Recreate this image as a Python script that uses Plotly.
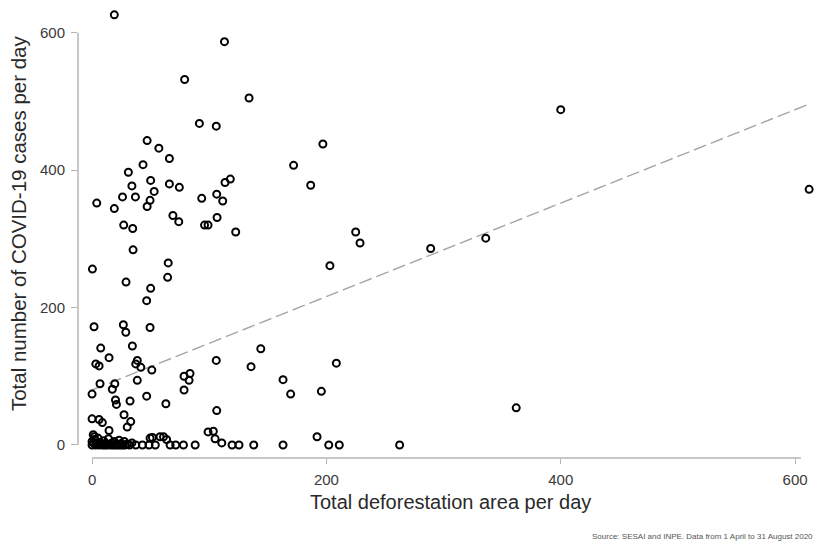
import plotly.graph_objects as go

# Deforestation area per day (x) and COVID-19 cases per day (y)
deforestation = [
    19, 113, 79, 134, 91.6, 106, 47, 57, 66, 43.5, 172, 31, 50, 66, 74.5, 34, 53, 113.5, 118, 106.4,
    111.5, 93.6, 4, 26, 37, 49.5, 47, 19, 69, 74, 96, 99, 106.7, 122.6, 27, 34.7, 35, 0.3, 65, 64.5,
    29, 400, 197, 186.6, 225, 228.7, 289, 336, 203, 612, 50, 46.6,
    1.7, 26.7, 28.8, 49.5, 7.4, 34.4, 14.5, 3.2, 6, 38.6, 37.3, 41.6, 51, 78.5, 83.6, 82.8, 78.5, 6.8,
    19.4, 17.3, 38.6, 0, 20, 20.8, 32.4, 46.6, 63, 0, 6, 8.8, 27.3, 33, 30, 14.5, 106, 144, 135.7, 163,
    169.5, 208.5, 195.7, 362, 106.4, 99, 103.5, 105, 110.7, 192,
    88, 119.5, 125.4, 138, 163, 202, 211, 262.5, 37.3, 43, 48.6, 54, 61, 66.6, 71.4, 78, 51.5, 58, 27.5, 1,
    0, 1, 2, 3, 4, 5, 6, 7, 8, 9, 10, 11, 12, 13, 14, 15, 16, 17, 18, 19, 20, 21, 22, 23, 24, 25, 26, 28,
    30, 32, 34, 0, 2, 63.6, 49.5,
]
covid_cases = [
    626, 587, 532, 505, 468, 464, 443, 432, 417, 408, 407, 397, 385, 380, 375, 377, 369, 382, 387, 365,
    355, 359, 352, 361, 361, 356, 347, 344, 334, 325, 320, 320, 331, 310, 320, 315, 284, 256, 265, 244,
    237, 488, 438, 378, 310, 294, 286, 301, 261, 372, 228, 210,
    172, 175, 164, 171, 141, 144, 127, 118, 115, 123, 118, 113, 109, 100, 104, 94, 80, 89,
    89, 81, 94, 74, 65.5, 59, 64, 71, 60, 38, 37, 32.5, 44, 34, 26, 21, 123, 140, 114, 95,
    74, 119, 78, 54, 50, 19, 20, 9, 3, 12,
    0, 0, 0, 0, 0, 0, 0, 0, 0, 0, 0, 0, 12, 0, 0, 0, 11, 12, 5, 15,
    0, 3, 8, 0, 2, 10, 0, 4, 1, 0, 6, 0, 2, 0, 9, 1, 0, 3, 0, 5, 0, 1, 0, 7, 0, 2, 0, 0,
    1, 0, 3, 5, 12, 8, 10,
]

# Fitted line
fit_intercept = 80
fit_slope = 0.68

x_ticks = [0, 200, 400, 600]
y_ticks = [0, 200, 400, 600]

FONT = "Liberation Sans, Arial, sans-serif"
AXIS_COL = "#b4b4b4"

fit_x = [min(deforestation), max(deforestation)]
fit_y = [fit_intercept + fit_slope * v for v in fit_x]

fig = go.Figure()
fig.add_trace(go.Scatter(
    x=fit_x, y=fit_y, mode="lines",
    line=dict(color="#a6a6a6", width=1.4, dash="13px,5px"),
    hoverinfo="skip", showlegend=False,
))
fig.add_trace(go.Scatter(
    x=deforestation, y=covid_cases, mode="markers",
    marker=dict(symbol="circle-open", size=7, color="black", line=dict(width=2, color="black")),
    showlegend=False,
))

# the page adds an 8px body margin, so the figure is 8px smaller and shifted margins
fig.update_layout(
    width=828, height=550,
    margin=dict(l=70, r=21, t=0, b=100, autoexpand=False),
    paper_bgcolor="white", plot_bgcolor="white",
    font=dict(family=FONT, color="#333333"),
    xaxis=dict(
        range=[-12, 617], tickvals=x_ticks, ticktext=[str(v) for v in x_ticks],
        showgrid=False, zeroline=False, showline=False,
        ticks="outside", ticklen=5, tickcolor=AXIS_COL, tickwidth=1,
        tickfont=dict(size=15, color="#3a3a3a"), ticklabelstandoff=3,
    ),
    yaxis=dict(
        range=[-19, 636], tickvals=y_ticks, ticktext=[str(v) for v in y_ticks],
        showgrid=False, zeroline=False, showline=False,
        ticks="outside", ticklen=6, tickcolor=AXIS_COL, tickwidth=1,
        tickfont=dict(size=15, color="#3a3a3a"), ticklabelstandoff=3,
    ),
    shapes=[
        dict(type="line", xref="paper", yref="y", x0=0, x1=0, y0=0, y1=600,
             line=dict(color=AXIS_COL, width=1.5)),
        dict(type="line", xref="x", yref="paper", x0=0, x1=605, y0=0, y1=0,
             line=dict(color=AXIS_COL, width=1.5)),
    ],
    annotations=[
        dict(text="Total deforestation area per day", xref="paper", yref="paper",
             x=0.505, y=-0.098, xanchor="center", yanchor="middle", showarrow=False,
             font=dict(size=20, color="#2a2a2a", family=FONT)),
        dict(text="Total number of COVID-19 cases per day", xref="paper", yref="paper",
             x=-0.0814, y=0.522, xanchor="center", yanchor="middle", textangle=-90, showarrow=False,
             font=dict(size=20.5, color="#2a2a2a", family=FONT)),
        dict(text="Source: SESAI and INPE. Data from 1 April to 31 August 2020", xref="paper", yref="paper",
             x=1.0, y=-0.175, xanchor="right", yanchor="middle", showarrow=False,
             font=dict(size=8, color="#555555", family=FONT)),
    ],
)

fig.write_html("out.html")
